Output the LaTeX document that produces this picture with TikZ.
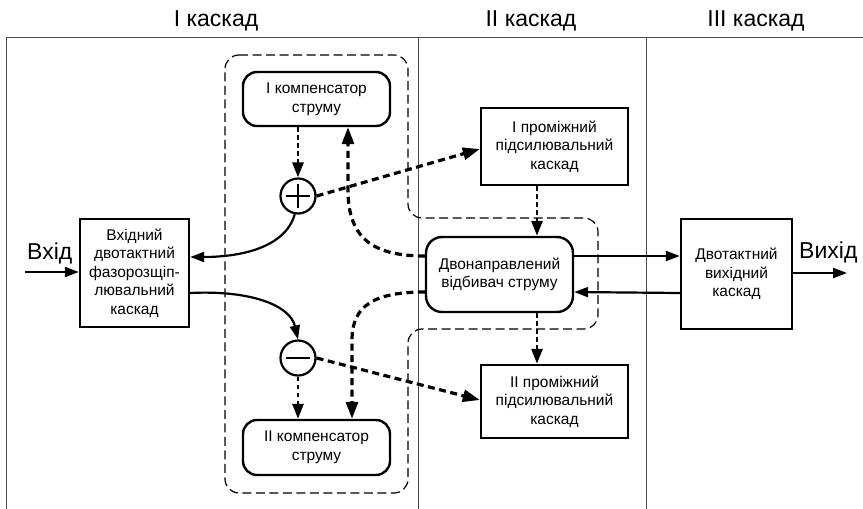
\documentclass[tikz,border=0pt]{standalone}
\usepackage{fontspec}
\setmainfont{Liberation Sans}
\usetikzlibrary{arrows.meta,calc}
\begin{document}
\begin{tikzpicture}[x=1pt,y=-1pt,
  box/.style={draw,line width=2.4pt,align=center,inner sep=0pt,font=\fontsize{15.5}{18.6}\selectfont},
  rbox/.style={box,rounded corners=14pt},
  sumc/.style={draw,circle,line width=2.2pt,minimum size=35pt,inner sep=0pt},
  solidarr/.style={line width=2.2pt,-{Triangle[length=14pt,width=10pt]}},
  dasharr/.style={line width=3.2pt,dash pattern=on 7pt off 4.5pt,-{Triangle[length=17pt,width=12pt]}},
  dotarr/.style={line width=2.8pt,dash pattern=on 4.5pt off 3.5pt,-{Triangle[length=15pt,width=11pt]}},
  grp/.style={line width=1.2pt,dash pattern=on 9pt off 4.5pt,rounded corners=14pt},
  framel/.style={line width=1pt,black!70},
  hdr/.style={font=\fontsize{23}{26}\selectfont,anchor=base},
  sig/.style={line width=2.6pt},
]
\useasboundingbox (0,0) rectangle (863,509);

% frame
\draw[framel] (6,509) -- (6,37) -- (863,37);
\draw[framel] (418,37) -- (418,509);
\draw[framel] (646,37) -- (646,509);

% headers
\node[hdr] (h1) at (216,26) {I каскад};
\node[hdr] (h2) at (531,26) {II каскад};
\node[hdr] (h3) at (756,26) {III каскад};

% group outline
\draw[grp] (225,55) -- (408,55) -- (408,218) -- (598,218) -- (598,329) -- (408,329) -- (408,493) -- (225,493) -- cycle;

% nodes
\node[box,minimum width=109pt,minimum height=108pt] (in) at (134.5,273) {Вхідний\\двотактний\\фазорозщіп-\\лювальний\\каскад};
\node[rbox,minimum width=147pt,minimum height=54pt] (comp1) at (316.5,99) {I компенсатор\\струму};
\node[rbox,minimum width=147pt,minimum height=55pt] (comp2) at (316.5,447.5) {II компенсатор\\струму};
\node[box,minimum width=147pt,minimum height=77pt] (amp1) at (554.5,146.5) {I проміжний\\підсилювальний\\каскад};
\node[box,minimum width=147pt,minimum height=73pt] (amp2) at (554.5,401.5) {II проміжний\\підсилювальний\\каскад};
\node[rbox,rounded corners=16pt,minimum width=147pt,minimum height=75pt] (refl) at (499.5,274.5) {Двонаправлений\\відбивач струму};
\node[box,minimum width=111pt,minimum height=110pt] (out) at (736.5,274) {Двотактний\\вихідний\\каскад};
\node[sumc] (plus) at (298,196) {};
\node[sumc] (minus) at (298,358) {};
\draw[sig] ([xshift=-12pt]plus.center) -- ([xshift=12pt]plus.center);
\draw[sig] ([yshift=-12pt]plus.center) -- ([yshift=12pt]plus.center);
\draw[sig] ([xshift=-12pt]minus.center) -- ([xshift=12pt]minus.center);

% labels
\node[hdr,anchor=base west,inner sep=0pt] (vin) at (27,259) {Вхід};
\node[hdr,anchor=base west,inner sep=0pt] (vout) at (799,258) {Вихід};
\coordinate (instart) at (25,272);
\coordinate (outend) at (847,273);

% input / output
\draw[solidarr] (instart) -- (instart -| in.west);
\draw[solidarr] ([yshift=1pt]out.east) -- ([yshift=1pt]out.east -| outend);

% plus -> input, input -> minus
\draw[solidarr] (plus.-100) .. controls (285,248) and (240,257) .. ([yshift=16pt]in.east);
\draw[solidarr] ([yshift=-20pt]in.east) .. controls (250,290) and (290,305) .. (minus.north);

% compensators -> circles
\draw[dotarr] (comp1.south -| plus.north) -- (plus.north);
\draw[dotarr] (minus.south) -- (minus.south |- comp2.north);

% circles -> amplifiers
\draw[dasharr] (plus.east) -- ([yshift=-2.5pt]amp1.west);
\draw[dasharr] (minus.east) -- ([yshift=1.5pt]amp2.west);

% reflector -> compensators
\draw[dasharr] ([yshift=18.5pt]refl.west) .. controls (375,256) and (348,240) .. (348,190) -- ([xshift=31.5pt]comp1.south);
\draw[dasharr] ([yshift=-17.5pt]refl.west) .. controls (375,292) and (352,305) .. (352,340) -- ([xshift=35.5pt]comp2.north);

% amplifier chain
\draw[dotarr] ([xshift=-17.5pt]amp1.south) -- ([xshift=37.5pt]refl.north);
\draw[dotarr] ([xshift=37.5pt]refl.south) -- ([xshift=-17.5pt]amp2.north);

% reflector <-> output
\draw[solidarr] ([yshift=18.5pt]refl.east) -- ([yshift=18pt]out.west);
\draw[solidarr] ([yshift=-19pt]out.west) -- ([yshift=-17.5pt]refl.east);
\end{tikzpicture}
\end{document}
